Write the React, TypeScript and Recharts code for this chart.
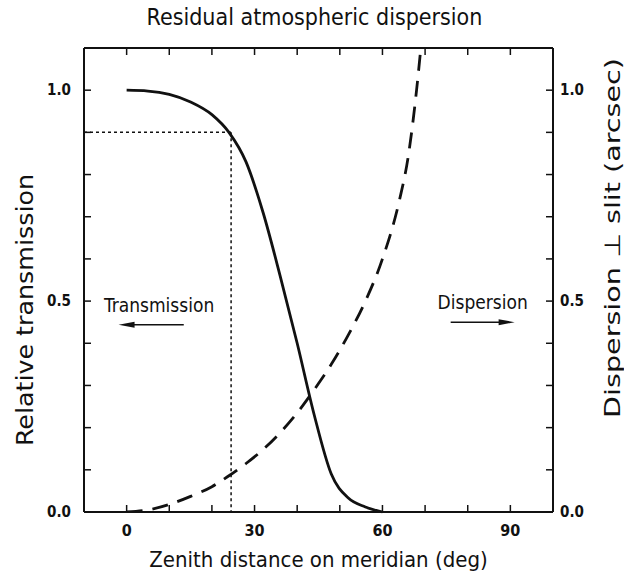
import { LineChart, Line, XAxis, YAxis, ReferenceLine, Label } from "recharts";

// zenith distance (deg) and the two curves
const zenith = [0, 5, 10, 15, 20, 24, 28, 32, 36, 40, 44, 48, 52, 56, 60, 64, 66, 68, 69];
const transmission = [1.0, 0.998, 0.99, 0.972, 0.942, 0.9, 0.83, 0.71, 0.56, 0.4, 0.23, 0.09, 0.033, 0.012, 0, null, null, null, null];
const dispersion = [0, 0.005, 0.018, 0.037, 0.06, 0.086, 0.115, 0.148, 0.188, 0.235, 0.29, 0.35, 0.42, 0.5, 0.6, 0.74, 0.84, 1.0, 1.1];

const xTicks = [0, 10, 20, 30, 40, 50, 60, 70, 80, 90];
const xLabels = [0, 30, 60, 90];
const yTicks = [0, 0.1, 0.2, 0.3, 0.4, 0.5, 0.6, 0.7, 0.8, 0.9, 1.0];
const yLabels = [0, 0.5, 1.0];

const cutoffZenith = 24.5;
const cutoffTransmission = 0.9;

const FONT = "'DejaVu Sans Condensed', 'DejaVu Sans', sans-serif";
const INK = "#111";

const data = zenith.map((z, i) => ({ z, transmission: transmission[i], dispersion: dispersion[i] }));

function BottomTick({ x, y, payload }: any) {
  const show = xLabels.includes(payload.value);
  return (
    <g>
      <line x1={x} y1={y} x2={x} y2={y - 7} stroke={INK} strokeWidth={1.5} />
      {show && (
        <text x={x} y={y + 24} textAnchor="middle" fontFamily={FONT} fontWeight="bold" fontSize={16} fill={INK}>
          {payload.value}
        </text>
      )}
    </g>
  );
}

function TopTick({ x, y }: any) {
  return <line x1={x} y1={y} x2={x} y2={y + 7} stroke={INK} strokeWidth={1.5} />;
}

function LeftTick({ x, y, payload }: any) {
  const show = yLabels.includes(payload.value);
  return (
    <g>
      <line x1={x} y1={y} x2={x + 7} y2={y} stroke={INK} strokeWidth={1.5} />
      {show && (
        <text x={x - 13} y={y + 5} textAnchor="end" fontFamily={FONT} fontWeight="bold" fontSize={15} fill={INK}>
          {payload.value.toFixed(1)}
        </text>
      )}
    </g>
  );
}

function RightTick({ x, y, payload }: any) {
  const show = yLabels.includes(payload.value);
  return (
    <g>
      <line x1={x} y1={y} x2={x - 7} y2={y} stroke={INK} strokeWidth={1.5} />
      {show && (
        <text x={x + 7} y={y + 5} textAnchor="start" fontFamily={FONT} fontWeight="bold" fontSize={15} fill={INK}>
          {payload.value.toFixed(1)}
        </text>
      )}
    </g>
  );
}

function Arrow({ x1, y1, x2, y2 }: any) {
  const dir = x2 > x1 ? 1 : -1;
  return (
    <g>
      <line x1={x1} y1={y1} x2={x2 - dir * 10} y2={y2} stroke={INK} strokeWidth={1.5} />
      <polygon points={`${x2},${y2} ${x2 - dir * 16},${y2 - 3} ${x2 - dir * 16},${y2 + 3}`} fill={INK} />
    </g>
  );
}

// rotated axis title, placed inside the axis box; the scan stretches it along its length
function SideTitle({ viewBox, value, inset, shift, size, length }: any) {
  const cx = viewBox.x + inset;
  const cy = viewBox.y + viewBox.height / 2 + shift;
  return (
    <text
      x={cx}
      y={cy}
      transform={`rotate(-90 ${cx} ${cy})`}
      textAnchor="middle"
      dominantBaseline="central"
      textLength={length}
      lengthAdjust="spacingAndGlyphs"
      fontFamily={FONT}
      fontSize={size}
      fill={INK}
    >
      {value}
    </text>
  );
}

export default function App() {
  return (
    <div style={{ position: "absolute", left: 0, top: 0, width: 624, height: 575, background: "#fff" }}>
      <LineChart width={624} height={575} data={data} margin={{ top: 0, right: 0, bottom: 0, left: 0 }}>
        <XAxis
          xAxisId="bottom"
          dataKey="z"
          type="number"
          domain={[-10, 100]}
          ticks={xTicks}
          interval={0}
          height={63}
          tickSize={0}
          tickMargin={0}
          tickLine={false}
          tick={<BottomTick />}
          axisLine={{ stroke: INK, strokeWidth: 2 }}
        >
          <Label
            value="Zenith distance on meridian (deg)"
            position="insideBottom"
            offset={8}
            style={{ fontFamily: FONT, fontSize: 22, fill: INK }}
          />
        </XAxis>
        <XAxis
          xAxisId="top"
          orientation="top"
          dataKey="z"
          type="number"
          domain={[-10, 100]}
          ticks={xTicks}
          interval={0}
          height={48}
          tickSize={0}
          tickMargin={0}
          tickLine={false}
          tick={<TopTick />}
          axisLine={{ stroke: INK, strokeWidth: 2 }}
        >
          <Label
            value="Residual atmospheric dispersion"
            position="insideTop"
            offset={9}
            dx={-4}
            style={{ fontFamily: FONT, fontSize: 23, fill: INK }}
          />
        </XAxis>
        <YAxis
          yAxisId="left"
          type="number"
          domain={[0, 1.1]}
          ticks={yTicks}
          interval={0}
          width={84}
          tickSize={0}
          tickMargin={0}
          tickLine={false}
          tick={<LeftTick />}
          axisLine={{ stroke: INK, strokeWidth: 2 }}
        >
          <Label
            value="Relative transmission"
            content={(p: any) => (
              <SideTitle {...p} value="Relative transmission" inset={25} shift={30} size={23} length={272} />
            )}
          />
        </YAxis>
        <YAxis
          yAxisId="right"
          orientation="right"
          type="number"
          domain={[0, 1.1]}
          allowDataOverflow
          ticks={yTicks}
          interval={0}
          width={71}
          tickSize={0}
          tickMargin={0}
          tickLine={false}
          tick={<RightTick />}
          axisLine={{ stroke: INK, strokeWidth: 2 }}
        >
          <Label
            value="Dispersion ⊥ slit (arcsec)"
            content={(p: any) => (
              <SideTitle {...p} value="Dispersion ⊥ slit (arcsec)" inset={59} shift={-42} size={22} length={360} />
            )}
          />
        </YAxis>

        <ReferenceLine
          xAxisId="bottom"
          yAxisId="left"
          segment={[{ x: -10, y: cutoffTransmission }, { x: cutoffZenith, y: cutoffTransmission }]}
          stroke={INK}
          strokeWidth={1.5}
          strokeDasharray="3 3"
        />
        <ReferenceLine
          xAxisId="bottom"
          yAxisId="left"
          segment={[{ x: cutoffZenith, y: cutoffTransmission }, { x: cutoffZenith, y: 0 }]}
          stroke={INK}
          strokeWidth={1.5}
          strokeDasharray="3 3"
        />

        <ReferenceLine
          xAxisId="bottom"
          yAxisId="left"
          segment={[{ x: 13.4, y: 0.444 }, { x: -1.9, y: 0.444 }]}
          shape={<Arrow />}
        >
          <Label
            value="Transmission"
            position="top"
            offset={13}
            dx={8}
            style={{ fontFamily: FONT, fontSize: 19, fill: INK }}
          />
        </ReferenceLine>
        <ReferenceLine
          xAxisId="bottom"
          yAxisId="left"
          segment={[{ x: 76, y: 0.45 }, { x: 91, y: 0.45 }]}
          shape={<Arrow />}
        >
          <Label value="Dispersion" position="top" offset={13} style={{ fontFamily: FONT, fontSize: 19, fill: INK }} />
        </ReferenceLine>

        <Line
          xAxisId="bottom"
          yAxisId="left"
          type="monotone"
          dataKey="transmission"
          stroke={INK}
          strokeWidth={2.8}
          dot={false}
          isAnimationActive={false}
        />
        <Line
          xAxisId="bottom"
          yAxisId="right"
          type="monotone"
          dataKey="dispersion"
          stroke={INK}
          strokeWidth={2.8}
          strokeDasharray="16 10"
          dot={false}
          isAnimationActive={false}
        />
      </LineChart>
    </div>
  );
}
